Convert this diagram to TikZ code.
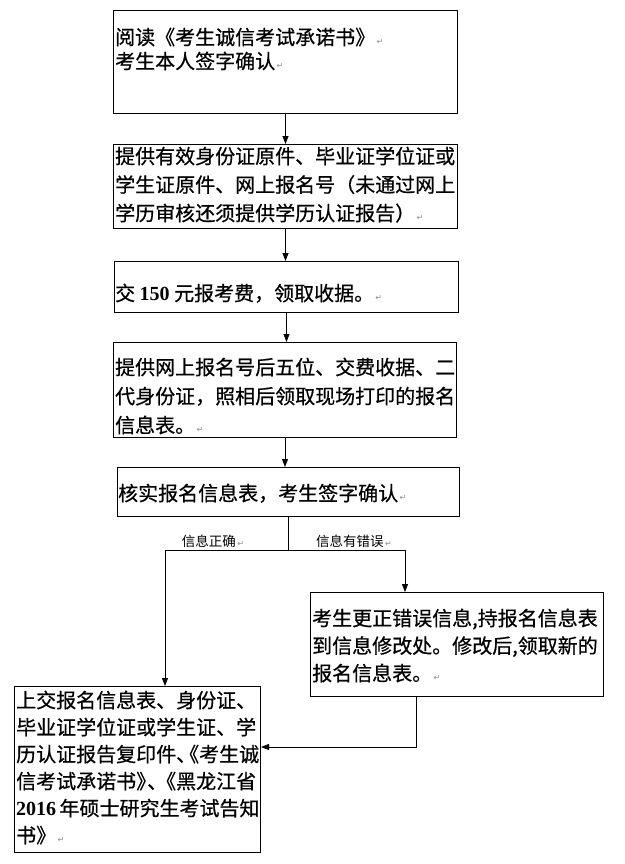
\documentclass[tikz,border=0pt]{standalone}
\usepackage{fontspec}
\newfontfamily\cjk{Noto Sans CJK SC}[FakeBold=0.6]
\newfontfamily\cjkl{Noto Sans CJK SC}
\newfontfamily\symf{DejaVu Sans}
\newfontfamily\dig{Liberation Serif}
\usetikzlibrary{arrows.meta}
\newcommand{\rt}{{\symf\fontsize{8}{8}\selectfont\color{black!45}\,↵}}
\tikzset{
  box/.style={draw=black, line width=1pt, anchor=north west, inner sep=0pt},
  txt/.style={anchor=north west, inner sep=0pt, align=left, font={\cjk\fontsize{20}{28.5}\selectfont}},
  lbl/.style={inner sep=0pt, font={\cjkl\fontsize{13.5}{14}\selectfont}},
  arr/.style={line width=0.8pt, -{Triangle[length=8pt,width=6pt]}},
  ln/.style={line width=0.8pt}
}
\begin{document}
\begin{tikzpicture}[x=1pt,y=-1pt]
\useasboundingbox (0,0) rectangle (624,864);
% boxes
\node[box, minimum width=344pt, minimum height=103pt] (b1) at (113,10) {};
\node[box, minimum width=344pt, minimum height=84pt] (b2) at (113,144) {};
\node[box, minimum width=344pt, minimum height=51pt] (b3) at (114,261) {};
\node[box, minimum width=343pt, minimum height=95pt] (b4) at (113,342) {};
\node[box, minimum width=342pt, minimum height=49pt] (b5) at (117,467) {};
\node[box, minimum width=293pt, minimum height=104pt] (bR) at (310,592) {};
\node[box, minimum width=246pt, minimum height=166pt] (bL) at (14,686) {};
% texts
\node[txt, font={\cjk\fontsize{20}{24}\selectfont}] (t1) at (115,27.5) {阅读《考生诚信考试承诺书》\rt\\考生本人签字确认\rt};
\node[txt] (t2) at (115,146.5) {提供有效身份证原件、毕业证学位证或\\学生证原件、网上报名号（未通过网上\\学历审核还须提供学历认证报告）\rt};
\node[txt] (t3) at (115,283.5) {交 {\dig\bfseries 150} 元报考费，领取收据。\rt};
\node[txt, font={\cjk\fontsize{20}{29}\selectfont}] (t4) at (115,357.5) {提供网上报名号后五位、交费收据、二\\代身份证，照相后领取现场打印的报名\\信息表。\rt};
\node[txt] (t5) at (118,483.5) {核实报名信息表，考生签字确认\rt};
\node[txt, font={\cjk\fontsize{20}{27.5}\selectfont}] (tR) at (312,608.5) {考生更正错误信息,持报名信息表\\到信息修改处。修改后,领取新的\\报名信息表。\rt};
\node[txt, font={\cjk\fontsize{20}{27}\selectfont}] (tL) at (16,690.5) {上交报名信息表、身份证、\\毕业证学位证或学生证、学\\历认证报告复印件、\kern-17pt《考生诚\\信考试承诺书》\kern-9pt、\kern-11pt《黑龙江省\\{\dig\bfseries 2016}\,年硕士研究生考试告知\\书》\rt};
% labels
\node[lbl] (lL) at (213,541) {信息正确\rt};
\node[lbl] (lR) at (354,541) {信息有错误\rt};
% connectors
\draw[arr] (b1.south) -- (b2.north);
\draw[arr] (b2.south) -- (b2.south |- b3.north);
\draw[arr] (b3.south) -- (b3.south |- b4.north);
\draw[arr] (b4.south) -- (b4.south |- b5.north);
\coordinate (split) at (288,550);
\coordinate (jL) at (165,550);
\coordinate (jR) at (405,550);
\draw[ln] (b5.south -| split) -- (split);
\draw[arr] (split) -- (jL) -- (jL |- bL.north);
\draw[arr] (split) -- (jR) -- (jR |- bR.north);
\coordinate (r0) at (416,747);
\draw[arr] (r0 |- bR.south) -- (r0) -- (r0 -| bL.east);
\end{tikzpicture}
\end{document}
